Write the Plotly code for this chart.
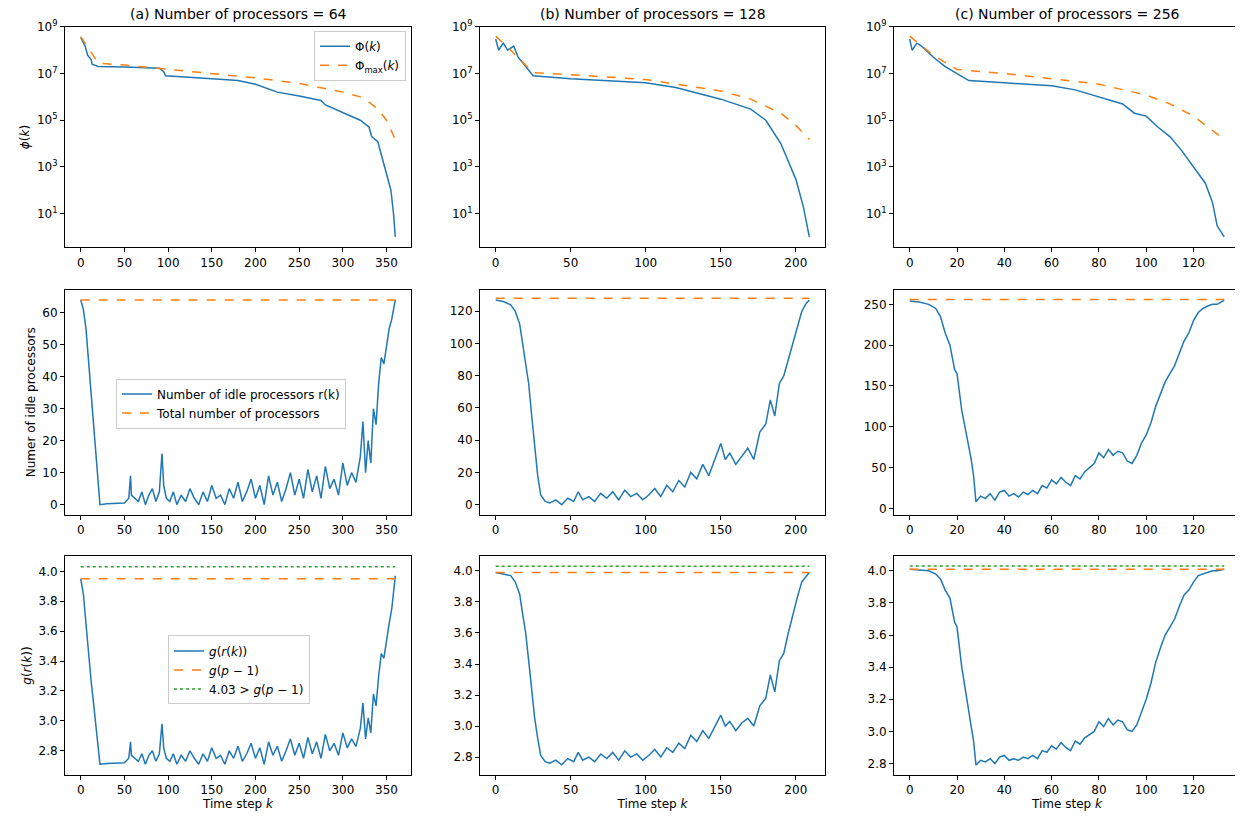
import plotly.graph_objects as go

BLUE = "#1f77b4"
ORANGE = "#ff7f0e"
GREEN = "#2ca02c"

# ---------(a) p = 64---------
k_a_phi = [0, 5, 8, 12, 13, 20, 50, 90, 95, 97, 150, 180, 200, 210, 225, 250, 275, 280, 300, 320, 330, 333, 340, 343, 350, 355, 358, 360]
phi_a = [3.5e8, 1.5e8, 6e7, 4e7, 2.5e7, 2e7, 1.9e7, 1.7e7, 1.2e7, 8e6, 6e6, 5e6, 3.5e6, 2.5e6, 1.6e6, 1.1e6, 7e5, 4.5e5, 2.2e5, 1e5, 5e4, 2e4, 1.2e4, 5e3, 5e2, 1e2, 1e1, 1]
k_a_max = [0, 10, 20, 50, 95, 150, 200, 250, 300, 320, 330, 340, 350, 360]
phimax_a = [3.8e8, 1e8, 2.8e7, 2.3e7, 1.6e7, 1e7, 6.5e6, 3.8e6, 1.6e6, 1e6, 6e5, 3e5, 1e5, 1.5e4]

k_a = [0, 3, 6, 9, 12, 15, 18, 20, 22, 30, 40, 50, 55, 57, 58, 62, 66, 70, 74, 78, 82, 86, 90, 93, 95, 98, 102, 106, 110, 115, 120, 125, 130, 135, 140, 145, 150, 155, 160, 165, 170, 175, 180, 185, 190, 195, 200, 205, 210, 215, 220, 225, 230, 235, 240, 245, 250, 255, 260, 265, 270, 275, 280, 285, 290, 295, 300, 305, 310, 315, 320, 323, 326, 329, 332, 335, 338, 341, 344, 347, 350, 353, 356, 360]
r_a = [64, 61, 55, 45, 35, 25, 15, 8, 0, 0.3, 0.3, 0.5, 2, 9, 3, 2, 1, 4, 0, 3, 5, 1, 4, 16, 6, 2, 1, 4, 0, 3, 1, 5, 2, 0, 4, 1, 6, 2, 3, 0, 5, 2, 7, 1, 4, 8, 2, 6, 0, 9, 3, 7, 1, 5, 10, 3, 8, 2, 11, 4, 9, 2, 12, 5, 8, 3, 13, 6, 10, 7, 15, 26, 10, 20, 13, 30, 25, 38, 46, 44, 50, 55, 58, 64]
g_a = [3.95, 3.85, 3.65, 3.43, 3.26, 3.10, 2.95, 2.85, 2.71, 2.715, 2.715, 2.72, 2.75, 2.86, 2.77, 2.75, 2.73, 2.78, 2.71, 2.77, 2.80, 2.73, 2.78, 2.98, 2.82, 2.75, 2.73, 2.78, 2.71, 2.77, 2.73, 2.80, 2.75, 2.71, 2.78, 2.73, 2.82, 2.75, 2.77, 2.71, 2.80, 2.75, 2.83, 2.73, 2.78, 2.85, 2.75, 2.82, 2.71, 2.86, 2.77, 2.83, 2.73, 2.80, 2.88, 2.77, 2.85, 2.75, 2.89, 2.78, 2.86, 2.75, 2.91, 2.80, 2.85, 2.77, 2.92, 2.82, 2.88, 2.83, 2.95, 3.12, 2.88, 3.02, 2.92, 3.18, 3.10, 3.30, 3.45, 3.42, 3.55, 3.65, 3.75, 3.97]

# ---------(b) p = 128---------
k_b_phi = [0, 2, 5, 8, 12, 15, 20, 25, 50, 100, 120, 150, 170, 180, 190, 200, 205, 209]
phi_b = [3e8, 1e8, 2e8, 1e8, 1.5e8, 5e7, 2e7, 8e6, 6e6, 4e6, 2.5e6, 8e5, 3e5, 1e5, 1e4, 3e2, 2e1, 1]
k_b_max = [0, 10, 25, 50, 100, 150, 170, 190, 200, 209]
phimax_b = [4e8, 1e8, 1.1e7, 9e6, 5.5e6, 1.8e6, 8e5, 2e5, 6e4, 1.5e4]

k_b = [0, 5, 10, 13, 16, 18, 20, 22, 24, 26, 28, 30, 33, 36, 40, 44, 48, 52, 55, 58, 62, 66, 70, 74, 78, 82, 86, 90, 94, 98, 102, 106, 110, 114, 118, 122, 126, 130, 134, 138, 142, 146, 150, 153, 156, 160, 164, 168, 172, 176, 180, 183, 186, 189, 192, 195, 198, 201, 204, 207, 209]
r_b = [127, 126, 124, 120, 112, 100, 90, 75, 55, 35, 18, 6, 2, 1, 3, 0, 4, 2, 8, 3, 5, 2, 7, 4, 8, 3, 9, 5, 7, 3, 6, 10, 5, 12, 8, 15, 11, 20, 16, 25, 18, 28, 38, 28, 32, 25, 30, 35, 28, 45, 50, 65, 55, 75, 80, 90, 100, 110, 120, 125, 127]
g_b = [3.99, 3.98, 3.97, 3.93, 3.85, 3.72, 3.60, 3.42, 3.22, 3.05, 2.92, 2.81, 2.77, 2.76, 2.78, 2.75, 2.79, 2.77, 2.83, 2.78, 2.80, 2.77, 2.82, 2.79, 2.83, 2.78, 2.84, 2.80, 2.82, 2.78, 2.81, 2.85, 2.80, 2.86, 2.83, 2.89, 2.855, 2.94, 2.90, 2.97, 2.92, 3.00, 3.07, 3.00, 3.03, 2.97, 3.02, 3.05, 3.00, 3.13, 3.18, 3.33, 3.22, 3.42, 3.47, 3.60, 3.72, 3.83, 3.93, 3.97, 3.99]

# ---------(c) p = 256---------
k_c_phi = [0, 1, 3, 5, 10, 15, 20, 25, 40, 60, 70, 80, 90, 95, 100, 105, 110, 115, 120, 125, 128, 130, 133]
phi_c = [3e8, 1e8, 2e8, 1.5e8, 5e7, 2e7, 1e7, 5e6, 4e6, 3e6, 2e6, 1e6, 5e5, 2e5, 1.5e5, 5e4, 2e4, 5e3, 1e3, 2e2, 3e1, 3, 1]
k_c_max = [0, 10, 20, 40, 60, 80, 100, 110, 120, 133]
phimax_c = [4e8, 6e7, 1.5e7, 1e7, 6e6, 3.5e6, 1.2e6, 5e5, 1.5e5, 1.5e4]

k_c = [0, 4, 8, 11, 13, 15, 17, 19, 20, 22, 24, 26, 27, 28, 30, 32, 34, 36, 38, 40, 42, 44, 46, 48, 50, 52, 54, 56, 58, 60, 62, 64, 66, 68, 70, 72, 74, 76, 78, 80, 82, 84, 86, 88, 90, 92, 94, 96, 98, 100, 102, 104, 106, 108, 110, 112, 114, 116, 118, 120, 122, 124, 126, 128, 130, 133]
r_c = [254, 253, 250, 245, 235, 215, 200, 170, 165, 120, 90, 60, 40, 8, 15, 12, 18, 10, 20, 22, 15, 18, 14, 20, 17, 22, 18, 28, 25, 35, 30, 38, 32, 28, 40, 36, 45, 50, 55, 68, 62, 72, 65, 70, 68, 58, 55, 65, 80, 90, 105, 125, 140, 155, 165, 175, 190, 205, 215, 230, 240, 245, 248, 250, 250, 255]
g_c = [4.01, 4.005, 4.0, 3.98, 3.95, 3.88, 3.83, 3.68, 3.65, 3.40, 3.20, 3.03, 2.94, 2.79, 2.82, 2.81, 2.83, 2.80, 2.84, 2.85, 2.82, 2.83, 2.82, 2.84, 2.83, 2.85, 2.83, 2.88, 2.87, 2.91, 2.89, 2.93, 2.90, 2.88, 2.94, 2.92, 2.96, 2.98, 3.00, 3.06, 3.03, 3.08, 3.04, 3.07, 3.06, 3.01, 3.00, 3.04, 3.12, 3.20, 3.30, 3.43, 3.52, 3.60, 3.65, 3.70, 3.78, 3.85, 3.88, 3.93, 3.97, 3.98, 3.99, 4.0, 4.0, 4.01]

p_vals = [64, 128, 256]
g_p1 = [3.95, 3.99, 4.01]
g_bound = 4.03
titles = ["(a) Number of processors = 64", "(b) Number of processors = 128", "(c) Number of processors = 256"]

panels = [
    (k_a_phi, phi_a, k_a_max, phimax_a, k_a, r_a, g_a),
    (k_b_phi, phi_b, k_b_max, phimax_b, k_b, r_b, g_b),
    (k_c_phi, phi_c, k_c_max, phimax_c, k_c, r_c, g_c),
]

W, H = 1243, 827
SHIFT = 14  # page renders a little lower than requested
xdom = [(57, 403), (472, 817), (886, 1232)]
ydom = [(24 - SHIFT, 247 - SHIFT), (290 - SHIFT, 518 - SHIFT), (560 - SHIFT, 781 - SHIFT)]
xranges = [[-18, 378], [-10.45, 219.45], [-6.65, 139.65]]
xdticks = [50, 50, 20]
mid_ranges = [[-3.2, 67.2], [-6.35, 133.35], [-8, 268]]
mid_dticks = [10, 20, 50]
bot_ranges = [[2.64, 4.10], [2.686, 4.094], [2.73, 4.09]]

fig = go.Figure()
axis_style = dict(showline=True, linecolor="black", linewidth=1, mirror=True, ticks="outside",
                  ticklen=4, tickcolor="black", showgrid=False, zeroline=False,
                  tickfont=dict(size=12, color="black"))

for c in range(3):
    kp, ph, km, pm, kr, rr, gg = panels[c]
    for r in range(3):
        idx = r * 3 + c + 1
        xa = "x" if idx == 1 else "x%d" % idx
        ya = "y" if idx == 1 else "y%d" % idx
        legend = {0: "legend", 1: "legend2", 2: "legend3"}[r]
        show = c == 0
        if r == 0:
            fig.add_trace(go.Scatter(x=kp, y=ph, mode="lines", line=dict(color=BLUE, width=1.5),
                                     name="Φ(<i>k</i>)", showlegend=show, legend=legend, xaxis=xa, yaxis=ya))
            fig.add_trace(go.Scatter(x=km, y=pm, mode="lines", line=dict(color=ORANGE, width=1.5, dash="dash"),
                                     name="Φ<sub>max</sub>(<i>k</i>)", showlegend=show, legend=legend, xaxis=xa, yaxis=ya))
        elif r == 1:
            fig.add_trace(go.Scatter(x=kr, y=rr, mode="lines", line=dict(color=BLUE, width=1.5),
                                     name="Number of idle processors r(k)", showlegend=show, legend=legend, xaxis=xa, yaxis=ya))
            fig.add_trace(go.Scatter(x=[kr[0], kr[-1]], y=[p_vals[c], p_vals[c]], mode="lines",
                                     line=dict(color=ORANGE, width=1.5, dash="dash"),
                                     name="Total number of processors", showlegend=show, legend=legend, xaxis=xa, yaxis=ya))
        else:
            fig.add_trace(go.Scatter(x=kr, y=gg, mode="lines", line=dict(color=BLUE, width=1.5),
                                     name="<i>g</i>(<i>r</i>(<i>k</i>))", showlegend=show, legend=legend, xaxis=xa, yaxis=ya))
            fig.add_trace(go.Scatter(x=[kr[0], kr[-1]], y=[g_p1[c], g_p1[c]], mode="lines",
                                     line=dict(color=ORANGE, width=1.5, dash="dash"),
                                     name="<i>g</i>(<i>p</i> − 1)", showlegend=show, legend=legend, xaxis=xa, yaxis=ya))
            fig.add_trace(go.Scatter(x=[kr[0], kr[-1]], y=[g_bound, g_bound], mode="lines",
                                     line=dict(color=GREEN, width=1.5, dash="dot"),
                                     name="4.03 > <i>g</i>(<i>p</i> − 1)", showlegend=show, legend=legend, xaxis=xa, yaxis=ya))

        xkey = "xaxis" if idx == 1 else "xaxis%d" % idx
        ykey = "yaxis" if idx == 1 else "yaxis%d" % idx
        x0, x1 = xdom[c]
        y0, y1 = ydom[r]
        xax = dict(axis_style, domain=[x0 / W, x1 / W], range=xranges[c], dtick=xdticks[c], tick0=0, anchor=ya)
        if r == 2:
            xax["title"] = dict(text="Time step <i>k</i>", font=dict(size=12), standoff=2)
        yax = dict(axis_style, domain=[1 - y1 / H, 1 - y0 / H], anchor=xa)
        if r == 0:
            yax.update(type="log", range=[-0.44, 9.0], tickvals=[10, 1e3, 1e5, 1e7, 1e9],
                       ticktext=["10<sup>1</sup>", "10<sup>3</sup>", "10<sup>5</sup>", "10<sup>7</sup>", "10<sup>9</sup>"])
            if c == 0:
                yax["title"] = dict(text="<i>ϕ</i>(<i>k</i>)", font=dict(size=12), standoff=4)
        elif r == 1:
            yax.update(range=mid_ranges[c], dtick=mid_dticks[c], tick0=0)
            if c == 0:
                yax["title"] = dict(text="Numer of idle processors", font=dict(size=12), standoff=4)
        else:
            yax.update(range=bot_ranges[c], dtick=0.2, tick0=0, tickformat=".1f")
            if c == 0:
                yax["title"] = dict(text="<i>g</i>(<i>r</i>(<i>k</i>))", font=dict(size=12), standoff=4)
        fig.layout[xkey] = xax
        fig.layout[ykey] = yax

    fig.add_annotation(text=titles[c], x=(xdom[c][0] + xdom[c][1]) / 2 / W, y=1 - (ydom[0][0] - 3) / H,
                       xref="paper", yref="paper", showarrow=False, xanchor="center", yanchor="bottom",
                       font=dict(size=14, color="black"))

leg = dict(bgcolor="rgba(255,255,255,0.8)", bordercolor="#cccccc", borderwidth=1,
           font=dict(size=12, color="black"), xref="paper", yref="paper")
fig.update_layout(
    width=W, height=H,
    margin=dict(l=0, r=0, t=0, b=0),
    paper_bgcolor="white", plot_bgcolor="white",
    font=dict(family="DejaVu Sans", color="black"),
    legend=dict(leg, x=398 / W, y=1 - (28 - SHIFT) / H, xanchor="right", yanchor="top"),
    legend2=dict(leg, x=108 / W, y=1 - (380 - SHIFT) / H, xanchor="left", yanchor="top"),
    legend3=dict(leg, x=160 / W, y=1 - (640 - SHIFT) / H, xanchor="left", yanchor="top"),
)

fig.write_html("out.html")
